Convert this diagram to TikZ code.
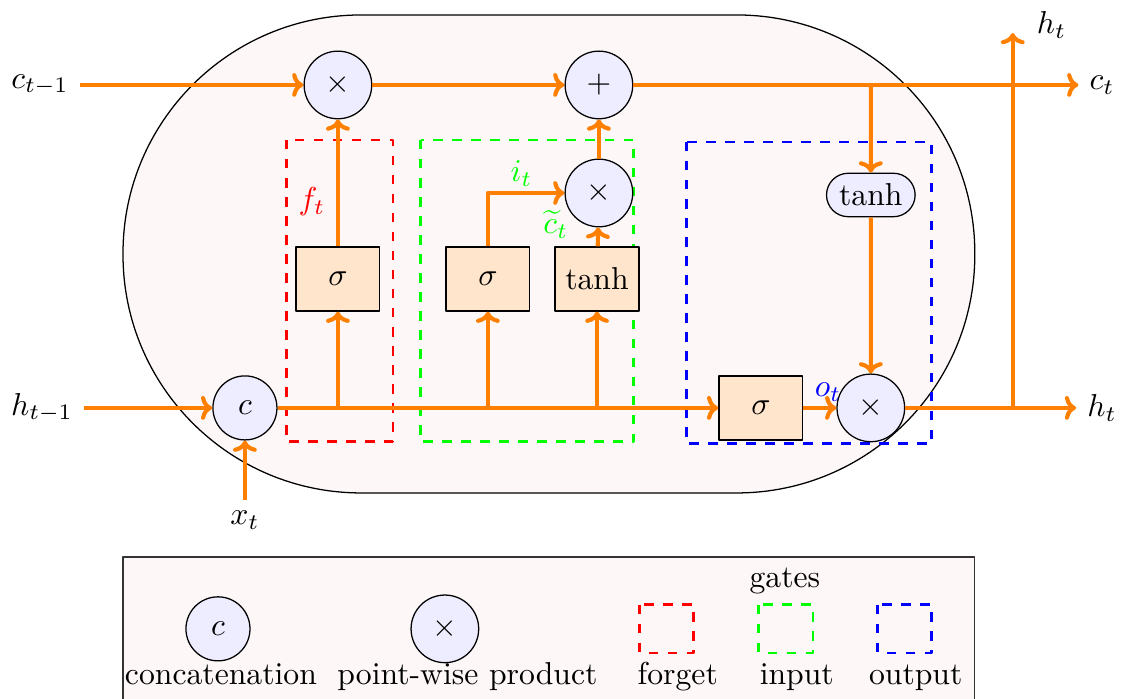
\documentclass[tikz,border=0pt]{standalone}
\usetikzlibrary{shapes.misc,arrows.meta}
\definecolor{cellbg}{HTML}{FDF8F7}
\tikzset{
  op/.style={circle,draw,fill=blue!7,minimum size=7.5mm,inner sep=0pt},
  act/.style={draw,fill=orange!20,minimum width=9.3mm,minimum height=7.1mm,inner sep=0pt},
  flow/.style={->,orange,line width=1.3pt},
  gatebox/.style={dashed,line width=.9pt},
}
\begin{document}
\begin{tikzpicture}[>={To[scale=.8]},line join=round]
\useasboundingbox (0,0) rectangle (12.43,-7.74);
% cell body and the three gates
\draw[fill=cellbg,rounded corners=2.64cm] (1.364,-0.166) rectangle (10.809,-5.466);
\draw[gatebox,red] (3.18,-1.552) rectangle (4.357,-4.90);
\draw[gatebox,green] (4.667,-1.552) rectangle (7.029,-4.90);
\draw[gatebox,blue] (7.616,-1.574) rectangle (10.333,-4.922);

% operations
\node[op] (mulf) at (3.747,-0.942) {$\times$};
\node[op] (add) at (6.641,-0.942) {$+$};
\node[op] (muli) at (6.641,-2.14) {$\times$};
\node[op] (mulo) at (9.656,-4.523) {$\times$};
\node[op,minimum size=7.1mm] (cat) at (2.716,-4.523) {$c$};
\node[act] (sigf) at (3.747,-3.093) {$\sigma$};
\node[act] (sigi) at (5.41,-3.093) {$\sigma$};
\node[act] (tanhc) at (6.62,-3.093) {tanh};
\node[act] (sigo) at (8.437,-4.523) {$\sigma$};
\node[draw,rounded rectangle,fill=blue!7,inner xsep=3pt,minimum height=3.8mm] (tanhh) at (9.656,-2.162) {tanh};

% inputs and outputs
\node (cin) at (0.443,-0.942) {$c_{t-1}$};
\node (hin) at (0.466,-4.523) {$h_{t-1}$};
\node (xin) at (2.716,-5.77) {$x_t$};
\node (cout) at (12.22,-0.942) {$c_t$};
\node (hout) at (12.22,-4.523) {$h_t$};
\node (hup) at (11.66,-0.277) {$h_t$};
\path
(9.656,-0.942) coordinate (bt)
(11.23,-4.523) coordinate (hb)
(11.23,-0.366) coordinate (htop)
;

% cell state
\draw[flow] (cin) -- (mulf);
\draw[flow] (mulf) -- (add);
\draw[flow] (add) -- (cout);
\draw[flow] (bt) -- (tanhh);
\draw[flow] (tanhh) -- (mulo);

% hidden state
\draw[flow] (hin) -- (cat);
\draw[flow] (xin) -- (cat);
\draw[flow] (cat) -- (sigo);
\foreach\g in {sigf, sigi, tanhc}
\draw[flow] (\g|-cat) -- (\g);
\draw[flow] (sigf) -- (mulf) node[pos=.35,left,red] (ft) {$f_t$};
\draw[flow] (sigi) |- (muli) node[pos=.72,above,inner sep=1.5pt] (it) {\color{green}$i_t$};
\draw[flow] (tanhc) -- (muli);
\draw[flow] (muli) -- (add);
\draw[flow] (sigo) -- (mulo) node[pos=.75,above,inner sep=1.5pt] (ot) {\color{blue}$o_t$};
\draw[flow] (mulo) -- (hout);
\draw[flow] (hb) -- (htop);
\node[green] (ct) at (6.164,-2.494) {$\widetilde{c}_t$};

% legend
\draw[fill=cellbg,draw=black!80] (1.364,-6.175) rectangle (10.809,-8.2);
\node[op,minimum size=7.1mm] (keycat) at (2.417,-6.973) {$c$};
\node[op] (keymul) at (4.933,-6.973) {$\times$};
\node[anchor=base] (keycatl) at (2.45,-7.594) {concatenation};
\node[anchor=base] (keymull) at (5.183,-7.594) {point-wise product};
\node[anchor=base] (gates) at (8.703,-6.519) {gates};
\foreach\c/\x/\t in {red/7.095/forget, green/8.415/input, blue/9.734/output}{
\draw[gatebox,\c] (\x,-6.707) rectangle +(0.599,-0.533);
\node[anchor=base] (key\t) at (\x+0.42,-7.594) {\t};
}
\end{tikzpicture}
\end{document}
